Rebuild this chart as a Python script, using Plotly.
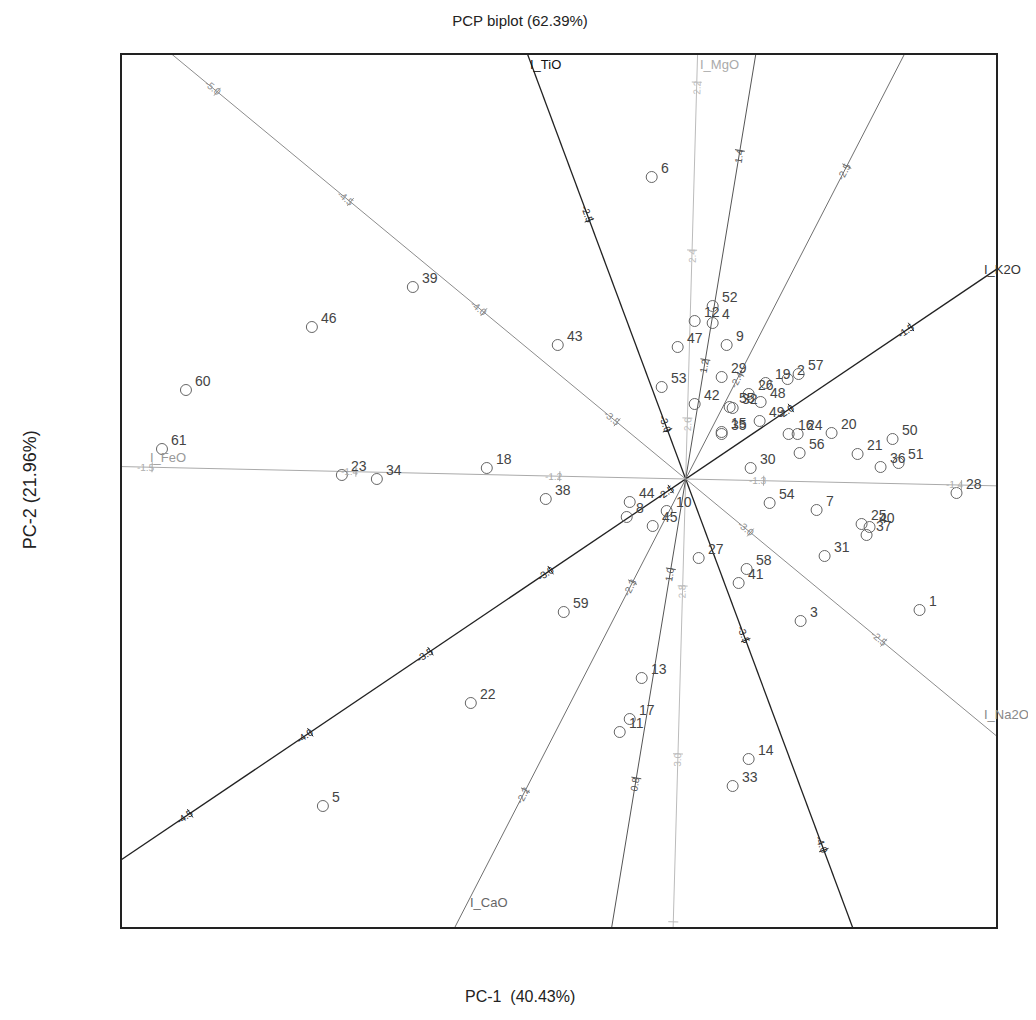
import math

import plotly.graph_objects as go

# observation scores (PC-1, PC-2)
obs_id = list(range(1, 62))
pc1 = [2.34, 1.02, 1.15, 0.27, -3.63, -0.34, 1.31, -0.59, 0.41, -0.19,
       -0.66, 0.09, -0.44, 0.63, 0.36, 1.03, -0.56, -1.99, 0.80, 1.46,
       1.72, -2.15, -3.44, 1.12, 1.76, 0.63, 0.13, 2.71, 0.36, 0.65,
       1.39, 0.47, 0.47, -3.09, 0.36, 1.95, 1.81, -1.40, -2.73, 1.84,
       0.53, 0.09, -1.28, -0.56, -0.33, -3.74, -0.08, 0.75, 0.74, 2.07,
       2.13, 0.27, -0.24, 0.84, 0.44, 1.14, 1.13, 0.61, -1.22, -5.00,
       -5.24]
pc2 = [-1.31, 1.00, -1.42, 1.56, -3.27, 3.02, -0.31, -0.38, 1.34, -0.32,
       -2.53, 1.58, -1.99, -2.80, 0.47, 0.45, -2.40, 0.11, 0.96, 0.46,
       0.25, -2.24, 0.04, 0.45, -0.45, 0.85, -0.79, -0.14, 1.02, 0.11,
       -0.77, 0.71, -3.07, 0.00, 0.45, 0.12, -0.56, -0.20, 1.92, -0.48,
       -1.04, 0.75, 1.34, -0.23, -0.47, 1.52, 1.32, 0.77, 0.58, 0.40,
       0.16, 1.73, 0.92, -0.24, 0.72, 0.26, 1.05, -0.90, -1.33, 0.89,
       0.30]

# variable axes: direction toward the labelled end
var_names = ["I_TiO", "I_MgO", "I_SiO2", "I_CaO", "I_K2O", "I_Na2O", "I_FeO"]
var_dx = [-0.349, 0.028, 0.163, -0.458, 0.829, 0.771, -1.0]
var_dy = [0.937, 1.0, 0.987, -0.889, 0.559, -0.637, 0.022]
label_dist = [4.52, 4.24, 4.30, 4.76, 3.57, 3.84, 5.38]
label_yanchor = ["top", "top", "top", "middle", "bottom", "bottom", "bottom"]
line_color = ["#222222", "#bbbbbb", "#555555", "#707070", "#222222", "#8c8c8c", "#aaaaaa"]
label_color = ["#111111", "#aaaaaa", "#555555", "#666666", "#333333", "#888888", "#999999"]

# calibration ticks along each variable axis (distance from origin, label)
tick_dist = [
    [2.76, 0.52, -1.72, -3.96],
    [3.97, 2.29, 0.61, -1.07, -2.75, -4.43],
    [3.33, 1.21, -0.91, -3.03],
    [-3.52, -1.18, 1.16, 3.50],
    [2.72, 1.27, -0.18, -1.63, -3.08, -4.53, -5.98],
    [-6.08, -4.35, -2.62, -0.89, 0.84, 2.57],
    [5.34, 3.30, 1.26, -0.78, -2.76],
]
tick_text = [
    ["-2.5", "-3.0", "-3.5", "-4.0"],
    ["2.2", "2.4", "2.6", "2.8", "3.0", "3.2"],
    ["1.4", "1.2", "1.0", "0.8"],
    ["-2.5", "-2.4", "-2.3", "-2.2"],
    ["-1.5", "-2.0", "-2.5", "-3.0", "-3.5", "-4.0", "-4.5"],
    ["-5.0", "-4.5", "-4.0", "-3.5", "-3.0", "-2.5"],
    ["-1.5", "-1.4", "-1.2", "-1.3", "-1.4"],
]

FONT = "Liberation Sans, Arial, sans-serif"

fig = go.Figure()
annotations = []

for i, name in enumerate(var_names):
    n = math.hypot(var_dx[i], var_dy[i])
    ux, uy = var_dx[i] / n, var_dy[i] / n
    wide = 1.3 if line_color[i] == "#222222" else 1
    fig.add_trace(go.Scatter(x=[-12 * ux, 12 * ux], y=[-12 * uy, 12 * uy],
                             mode="lines", line=dict(color=line_color[i], width=wide),
                             hoverinfo="skip", showlegend=False))
    # reading direction for tick labels (left to right-ish)
    rx, ry = (ux, uy) if ux > 0.01 or (abs(ux) <= 0.01 and uy > 0) else (-ux, -uy)
    ang = -math.degrees(math.atan2(ry, rx))
    tx, ty = [], []
    for d, t in zip(tick_dist[i], tick_text[i]):
        cx, cy = d * ux, d * uy
        tx += [cx - 0.05 * uy, cx + 0.05 * uy, None]
        ty += [cy + 0.05 * ux, cy - 0.05 * ux, None]
        annotations.append(dict(x=cx - 0.06 * rx, y=cy - 0.06 * ry, text=t, showarrow=False,
                                textangle=ang, xanchor="center", yanchor="middle",
                                font=dict(size=10, color=line_color[i], family=FONT)))
    fig.add_trace(go.Scatter(x=tx, y=ty, mode="lines",
                             line=dict(color=line_color[i], width=1),
                             hoverinfo="skip", showlegend=False))
    annotations.append(dict(x=label_dist[i] * ux, y=label_dist[i] * uy, text=name,
                            showarrow=False, xanchor="left", yanchor=label_yanchor[i],
                            font=dict(size=13, color=label_color[i], family=FONT)))

fig.add_trace(go.Scatter(
    x=pc1, y=pc2, mode="markers",
    marker=dict(symbol="circle-open", size=11, color="#666666", line=dict(width=1)),
    hoverinfo="text", text=[str(k) for k in obs_id], showlegend=False))

for k, x, y in zip(obs_id, pc1, pc2):
    annotations.append(dict(x=x, y=y, text=str(k), showarrow=False, xanchor="left",
                            yanchor="middle", xshift=7, yshift=9,
                            font=dict(size=14, color="#444444", family=FONT)))

annotations.append(dict(xref="paper", yref="paper", x=0.455, y=-0.08, text="PC-1  (40.43%)",
                        xanchor="center", yanchor="middle", showarrow=False,
                        font=dict(size=16, color="#222222", family=FONT)))
annotations.append(dict(xref="paper", yref="paper", x=-0.105, y=0.501, text="PC-2 (21.96%)",
                        xanchor="center", yanchor="middle", textangle=-90, showarrow=False,
                        font=dict(size=18, color="#222222", family=FONT)))

fig.update_layout(
    width=1020, height=1004,
    margin=dict(l=114, r=32, t=47, b=85),
    title=dict(text="PCP biplot (62.39%)", x=0.502, y=0.9875, xanchor="center", yanchor="middle",
               font=dict(size=15, color="#222222", family=FONT)),
    plot_bgcolor="white", paper_bgcolor="white",
    xaxis=dict(range=[-5.64, 3.105], showgrid=False, zeroline=False, showticklabels=False,
               ticks="", showline=True, mirror=True, linecolor="#222222", linewidth=2),
    yaxis=dict(range=[-4.48, 4.24], showgrid=False, zeroline=False, showticklabels=False,
               ticks="", showline=True, mirror=True, linecolor="#222222", linewidth=2),
    annotations=annotations,
)

fig.write_html("out.html")
